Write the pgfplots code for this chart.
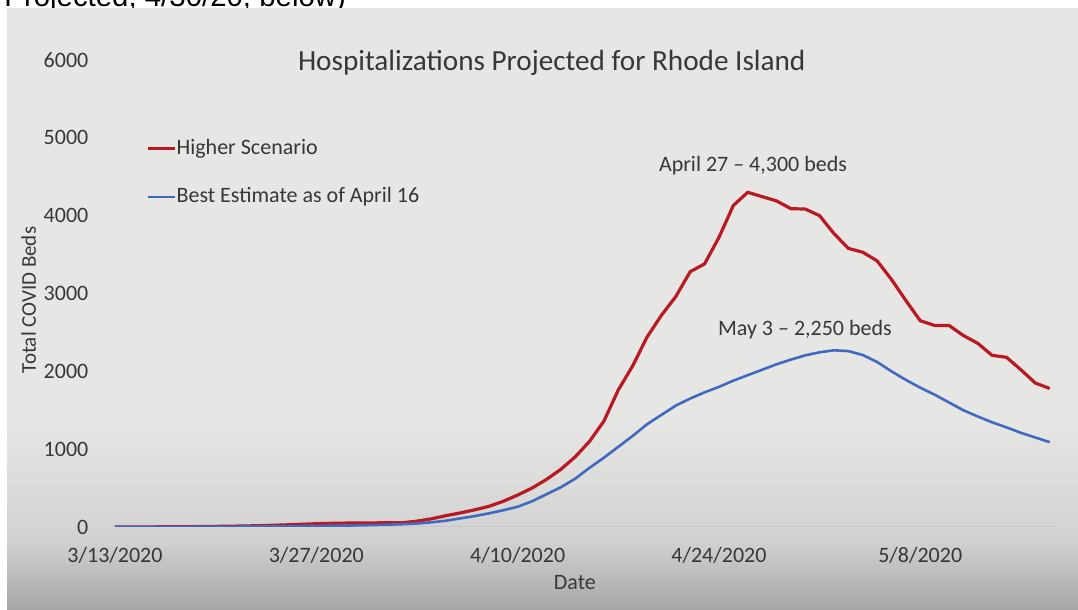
\documentclass[border=0pt]{standalone}
\usepackage{fontspec}
\setmainfont{Carlito}
\newfontfamily\arialfont{Liberation Sans}
\usepackage{pgfplots}
\usepackage{pgfplotstable}
\pgfplotsset{compat=1.18}

\definecolor{redline}{RGB}{185,25,35}
\definecolor{blueline}{RGB}{65,105,190}
\definecolor{txt}{RGB}{55,55,55}
\definecolor{bgtop}{RGB}{230,230,228}
\definecolor{bglow}{RGB}{210,210,210}
\definecolor{bgbot}{RGB}{166,166,166}

% day 0 = 3/13/2020
\pgfplotstableread{
day red blue
0 0 0
1 0 0
2 1 1
3 2 1
4 3 2
5 4 2
6 6 3
7 8 4
8 10 5
9 13 6
10 17 7
11 22 8
12 28 10
13 35 12
14 42 14
15 47 16
16 50 18
17 52 21
18 53 25
19 54 30
20 55 36
21 75 45
22 105 60
23 145 80
24 180 110
25 220 140
26 265 175
27 330 215
28 410 260
29 500 330
30 610 420
31 740 510
32 900 620
33 1100 760
34 1360 890
35 1760 1030
36 2070 1170
37 2440 1320
38 2720 1440
39 2960 1560
40 3280 1650
41 3380 1730
42 3720 1800
43 4130 1880
44 4300 1950
45 4245 2020
46 4190 2090
47 4090 2150
48 4085 2205
49 4000 2245
50 3770 2270
51 3580 2260
52 3530 2210
53 3420 2120
54 3180 2000
55 2910 1890
56 2650 1790
57 2590 1700
58 2590 1600
59 2460 1500
60 2360 1420
61 2205 1345
62 2180 1280
63 2020 1210
64 1850 1150
65 1780 1090
}\projdata

\begin{document}
\begin{tikzpicture}
% cropped caption line above the slide
\begin{scope}
  \clip (0pt,301pt) rectangle (539pt,305pt);
  \node[anchor=base west, inner sep=0pt, font=\arialfont\fontsize{14.7}{16}\selectfont]
    at (2pt,301.75pt) {Projected, 4/30/20, below)};
\end{scope}
% slide background
\fill[bgtop] (3.5pt,95pt) rectangle (539pt,301pt);
\shade[top color=bgtop, bottom color=bglow] (3.5pt,35pt) rectangle (539pt,95.2pt);
\shade[top color=bglow, bottom color=bgbot] (3.5pt,0pt) rectangle (539pt,35.2pt);

\begin{axis}[
  at={(57.5pt,41.5pt)}, anchor=south west,
  scale only axis, width=470.2pt, height=233.5pt,
  xmin=0, xmax=65.4, ymin=0, ymax=6000,
  axis line style={draw=none},
  major tick length=0pt,
  xtick={0,14,28,42,56},
  xticklabels={3/13/2020,3/27/2020,4/10/2020,4/24/2020,5/8/2020},
  ytick={0,1000,...,6000},
  /pgf/number format/1000 sep={},
  /pgf/number format/assume math mode=true,
  tick label style={font=\fontsize{11}{13}\selectfont, text=txt},
  xticklabel style={yshift=-6.5pt},
  yticklabel style={xshift=-9.8pt},
  title={Hospitalizations Projected for Rhode Island},
  title style={at={(axis description cs:0.4644,0.968)}, anchor=center,
    font=\fontsize{14.6}{17}\selectfont, text=txt},
  xlabel={Date},
  xlabel style={at={(axis description cs:0.489,-0.1199)}, anchor=center,
    font=\fontsize{11}{13}\selectfont, text=txt},
  ylabel={Total COVID Beds},
  ylabel style={at={(axis description cs:-0.0919,0.4861)}, anchor=center,
    font=\fontsize{10.5}{12}\selectfont, text=txt},
  legend cell align=left,
  legend style={at={(axis description cs:0.033,0.833)}, anchor=north west,
    draw=none, fill=none, inner sep=0pt, row sep=13.5pt, column sep=0pt,
    font=\fontsize{11}{13}\selectfont, text=txt,
    nodes={inner sep=0pt, text height=8pt, text depth=2.5pt}},
  legend image code/.code={\draw[#1] (0pt,0pt) -- (13.5pt,0pt);},
]
\draw[gray!45, line width=1pt] (axis cs:0,0) -- (axis cs:65.4,0);
\addplot[redline, line width=1.6pt, line join=round] table[x=day, y=red] {\projdata};
\addlegendentry{Higher Scenario}
\addplot[blueline, line width=1.3pt, line join=round] table[x=day, y=blue] {\projdata};
\addlegendentry{Best Estimate as of April 16}
\node[font=\fontsize{11}{13}\selectfont, text=txt] at (axis cs:44.37,4638) {April 27 -- 4,300 beds};
\node[font=\fontsize{11}{13}\selectfont, text=txt] at (axis cs:47.98,2531) {May 3 -- 2,250 beds};
\end{axis}
\pgfresetboundingbox
\path[use as bounding box] (0pt,0pt) rectangle (539pt,305pt);
\end{tikzpicture}
\end{document}
